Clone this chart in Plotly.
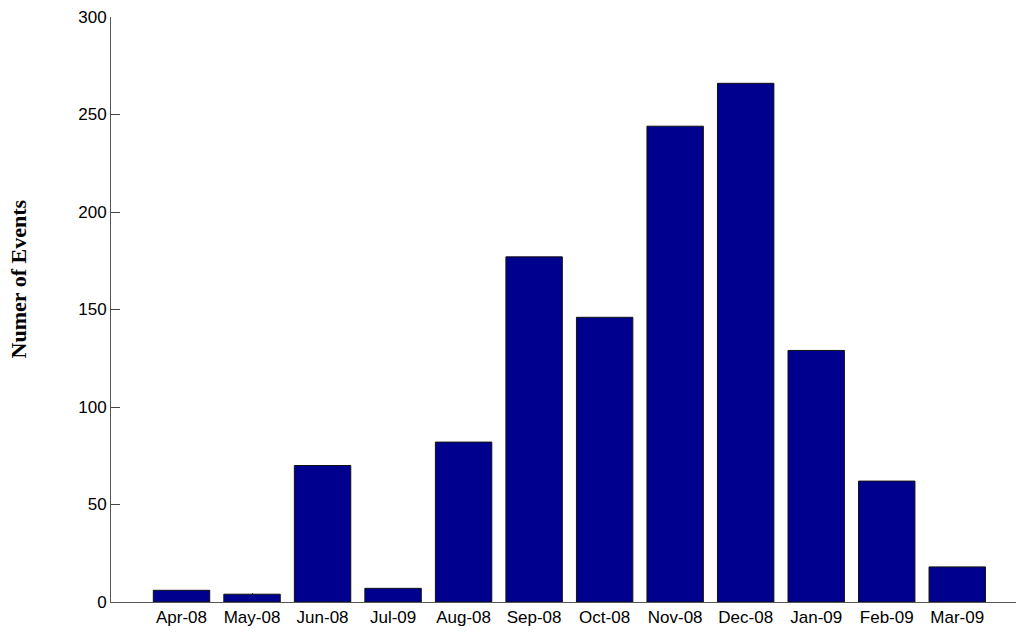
import plotly.graph_objects as go

# data
months = ["Apr-08", "May-08", "Jun-08", "Jul-09", "Aug-08", "Sep-08",
          "Oct-08", "Nov-08", "Dec-08", "Jan-09", "Feb-09", "Mar-09"]
events = [6, 4, 70, 7, 82, 177, 146, 244, 266, 129, 62, 18]
y_ticks = [0, 50, 100, 150, 200, 250, 300]

fig = go.Figure(
    go.Bar(
        x=list(range(len(months))),
        y=events,
        width=0.8,
        marker=dict(color="#00008F", line=dict(color="#111111", width=1)),
    )
)

axis_font = dict(family="Arial, Liberation Sans, sans-serif", size=17, color="#000000")

# the page body adds ~8px offset, margins compensate for it
fig.update_layout(
    width=1024,
    height=634,
    margin=dict(l=103, r=0, t=9, b=40),
    plot_bgcolor="white",
    paper_bgcolor="white",
    showlegend=False,
    xaxis=dict(
        range=[-1, 12.06],
        tickmode="array",
        tickvals=list(range(len(months))),
        ticktext=months,
        ticks="inside",
        ticklen=9,
        tickcolor="#444444",
        showline=True,
        linecolor="#555555",
        linewidth=1,
        showgrid=False,
        zeroline=False,
        tickfont=axis_font,
        layer="below traces",
    ),
    yaxis=dict(
        range=[0, 300],
        tickmode="array",
        tickvals=y_ticks,
        ticks="inside",
        ticklen=9,
        tickcolor="#444444",
        showline=True,
        linecolor="#555555",
        linewidth=1,
        showgrid=False,
        zeroline=False,
        tickfont=axis_font,
        ticklabeloverflow="allow",
        layer="below traces",
    ),
    annotations=[
        dict(
            text="<b>Numer of Events</b>",
            xref="paper", yref="paper",
            x=-0.1, y=0.553,
            xanchor="center", yanchor="middle",
            textangle=-90,
            showarrow=False,
            borderpad=0,
            font=dict(family="Liberation Serif, Times New Roman, serif", size=22, color="#000000"),
        )
    ],
)

fig.write_html("out.html")
